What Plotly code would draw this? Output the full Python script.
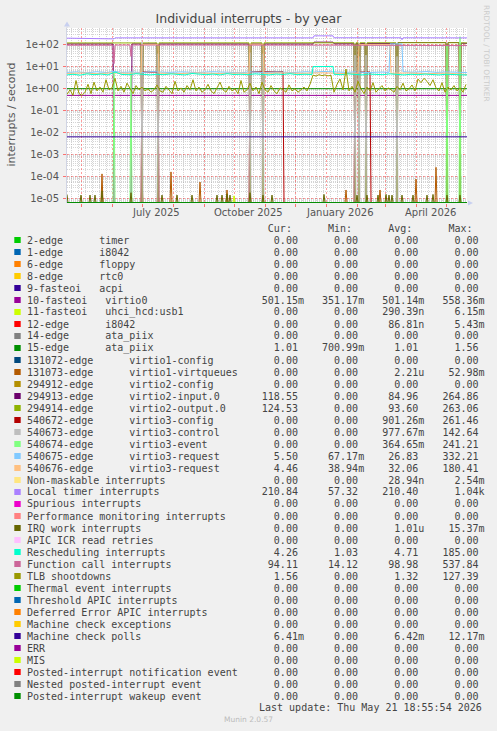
import pandas as pd
import plotly.graph_objects as go

# ---------------------------------------------------------------- data
START = pd.Timestamp("2025-04-16 19:00")
SPAN_DAYS = 400

TITLE = "Individual interrupts - by year"
Y_LABEL = "interrupts / second"
Y_TICK_VALUES = [1e-5, 1e-4, 1e-3, 1e-2, 1e-1, 1, 10, 100]
Y_TICK_LABELS = ["1e-05", "1e-04", "1e-03", "1e-02", "1e-01", "1e+00", "1e+01", "1e+02"]
X_LABEL_DATES = ["2025-07-15", "2025-10-15", "2026-01-15", "2026-04-15"]
X_LABELS = ["July 2025", "October 2025", "January 2026", "April 2026"]
LAST_UPDATE = "Last update: Thu May 21 18:55:54 2026"
FOOTER = "Munin 2.0.57"
WATERMARK = "RRDTOOL / TOBI OETIKER"

LABELS = [
    "2-edge      timer", "1-edge      i8042", "6-edge      floppy", "8-edge      rtc0",
    "9-fasteoi   acpi", "10-fasteoi   virtio0", "11-fasteoi   uhci_hcd:usb1",
    "12-edge      i8042", "14-edge      ata_piix", "15-edge      ata_piix",
    "131072-edge      virtio1-config", "131073-edge      virtio1-virtqueues",
    "294912-edge      virtio2-config", "294913-edge      virtio2-input.0",
    "294914-edge      virtio2-output.0", "540672-edge      virtio3-config",
    "540673-edge      virtio3-control", "540674-edge      virtio3-event",
    "540675-edge      virtio3-request", "540676-edge      virtio3-request",
    "Non-maskable interrupts", "Local timer interrupts", "Spurious interrupts",
    "Performance monitoring interrupts", "IRQ work interrupts", "APIC ICR read retries",
    "Rescheduling interrupts", "Function call interrupts", "TLB shootdowns",
    "Thermal event interrupts", "Threshold APIC interrupts", "Deferred Error APIC interrupts",
    "Machine check exceptions", "Machine check polls", "ERR", "MIS",
    "Posted-interrupt notification event", "Nested posted-interrupt event",
    "Posted-interrupt wakeup event",
]
COLORS = [
    "#00CC00", "#0066B3", "#FF8000", "#FFCC00", "#330099", "#990099", "#CCFF00", "#FF0000",
    "#808080", "#008F00", "#00487D", "#B35A00", "#B38F00", "#6B006B", "#8FB300", "#B30000",
    "#BEBEBE", "#80FF80", "#80C9FF", "#FFC080", "#FFE680", "#AA80FF", "#EE00CC", "#FF8080",
    "#666600", "#FFBFFF", "#00FFCC", "#CC6699", "#999900",
    "#00CC00", "#0066B3", "#FF8000", "#FFCC00", "#330099", "#990099", "#CCFF00", "#FF0000",
    "#808080", "#008F00",
]
CUR = ["0.00", "0.00", "0.00", "0.00", "0.00", "501.15m", "0.00", "0.00", "0.00", "1.01",
       "0.00", "0.00", "0.00", "118.55", "124.53", "0.00", "0.00", "0.00", "5.50", "4.46",
       "0.00", "210.84", "0.00", "0.00", "0.00", "0.00", "4.26", "94.11", "1.56",
       "0.00", "0.00", "0.00", "0.00", "6.41m", "0.00", "0.00", "0.00", "0.00", "0.00"]
MIN = ["0.00", "0.00", "0.00", "0.00", "0.00", "351.17m", "0.00", "0.00", "0.00", "700.99m",
       "0.00", "0.00", "0.00", "0.00", "0.00", "0.00", "0.00", "0.00", "67.17m", "38.94m",
       "0.00", "57.32", "0.00", "0.00", "0.00", "0.00", "1.03", "14.12", "0.00",
       "0.00", "0.00", "0.00", "0.00", "0.00", "0.00", "0.00", "0.00", "0.00", "0.00"]
AVG = ["0.00", "0.00", "0.00", "0.00", "0.00", "501.14m", "290.39n", "86.81n", "0.00", "1.01",
       "0.00", "2.21u", "0.00", "84.96", "93.60", "901.26m", "977.67m", "364.65m", "26.83", "32.06",
       "28.94n", "210.40", "0.00", "0.00", "1.01u", "0.00", "4.71", "98.98", "1.32",
       "0.00", "0.00", "0.00", "0.00", "6.42m", "0.00", "0.00", "0.00", "0.00", "0.00"]
MAX = ["0.00", "0.00", "0.00", "0.00", "0.00", "558.36m", "6.15m", "5.43m", "0.00", "1.56",
       "0.00", "52.98m", "0.00", "264.86", "263.06", "261.46", "142.64", "241.21", "332.21", "180.41",
       "2.54m", "1.04k", "0.00", "0.00", "15.37m", "0.00", "185.00", "537.84", "127.39",
       "0.00", "0.00", "0.00", "0.00", "12.17m", "0.00", "0.00", "0.00", "0.00", "0.00"]

# --- series (x = days since START, y = interrupts/s)
ZERO_DAYS = [0, 400]
ZERO_VALUES = [0, 0]

VIRTIO0_DAYS = [0, 400]
VIRTIO0_VALUES = [0.50, 0.50]

ATA15_DAYS = [0, 400]
ATA15_VALUES = [1.01, 1.01]

MC_POLL_DAYS = [0, 400]
MC_POLL_VALUES = [0.0064, 0.0064]

LOCAL_TIMER_DAYS = [0, 46, 47, 48, 120, 246, 247, 266, 267, 334, 335, 336, 400]
LOCAL_TIMER_VALUES = [205, 205, 190, 212, 212, 212, 262, 262, 214, 214, 175, 214, 211]

FUNC_CALL_DAYS = [0, 46, 47, 48, 63, 64, 65, 200, 246, 247, 266, 267, 400]
FUNC_CALL_VALUES = [97, 97, 14.1, 99, 99, 30, 99, 99, 99, 106, 106, 98, 94]

V2_INPUT_DAYS = [0, 46, 47, 64, 65, 74, 75, 76, 90, 91, 92, 182, 183, 184, 195, 196, 197,
                 246, 247, 266, 267, 287, 288, 289, 291, 292, 293, 298, 299, 300,
                 329, 330, 331, 379, 380, 381, 392, 393, 394, 400]
V2_INPUT_VALUES = [112, 112, 0, 0, 112, 112, 0, 112, 112, 0, 112, 112, 0, 112, 112, 0, 112,
                   112, 135, 135, 114, 114, 0, 116, 116, 0, 116, 116, 0, 118,
                   118, 0, 130, 130, 0, 130, 130, 0, 120, 118.5]

V2_OUTPUT_DAYS = [0, 74, 75, 76, 90, 91, 92, 182, 183, 184, 195, 196, 197, 287, 288, 289,
                  291, 292, 293, 298, 299, 300, 329, 330, 331, 379, 380, 381, 392, 393, 394, 400]
V2_OUTPUT_VALUES = [124, 124, 0, 124, 124, 0, 125, 125, 0, 125, 125, 0, 125, 126, 0, 126,
                    126, 0, 126, 126, 0, 126, 126, 0, 127, 127, 0, 127, 127, 0, 125, 124.5]

V3_CONFIG_DAYS = [0, 74, 75, 91, 92, 182, 183, 216, 217, 287, 288, 303, 304, 400]
V3_CONFIG_VALUES = [0, 0, 5.8, 5.8, 0, 0, 6.0, 6.0, 0, 0, 5.8, 5.8, 0, 0]

V3_CONTROL_SPIKE_DAYS = [75, 91, 183, 196, 288, 292, 299, 330]
V3_CONTROL_SPIKE_VALUES = [142, 40, 45, 40, 35, 30, 35, 30]

V3_EVENT_SPIKE_DAYS = [47, 64, 380, 393]
V3_EVENT_SPIKE_VALUES = [6, 6, 100, 241]

V3_REQ_A_DAYS = [0, 10, 20, 30, 40, 47, 55, 64, 75, 85, 100, 115, 130, 145, 160, 175, 183,
                 196, 210, 225, 240, 246, 256, 266, 280, 288, 300, 315, 322, 323, 335, 336,
                 345, 360, 370, 380, 393, 400]
V3_REQ_A_VALUES = [5.6, 5.9, 5.4, 6.0, 5.5, 6.3, 5.6, 5.8, 5.5, 6.1, 5.6, 5.9, 5.5, 6.0, 5.7,
                   5.4, 6.0, 5.6, 5.9, 5.5, 6.0, 5.7, 6.2, 5.8, 5.6, 5.9, 5.5, 5.8, 5.6, 112,
                   112, 6.0, 5.7, 6.1, 5.6, 5.9, 5.7, 5.5]

V3_REQ_B_DAYS = [0, 15, 30, 47, 60, 74, 75, 91, 92, 110, 130, 150, 170, 182, 183, 196, 197,
                 215, 235, 255, 275, 291, 292, 323, 324, 340, 360, 380, 400]
V3_REQ_B_VALUES = [5.0, 5.3, 4.9, 5.4, 5.1, 5.2, 105, 105, 5.2, 4.9, 5.3, 5.0, 5.2, 5.1, 108,
                   108, 5.0, 5.3, 5.1, 5.4, 5.0, 5.2, 104, 104, 5.1, 5.3, 4.9, 5.2, 4.46]

RESCHED_DAYS = [0, 6, 13, 20, 27, 34, 41, 48, 55, 62, 69, 76, 83, 90, 97, 104, 111, 118, 125,
                132, 139, 146, 153, 160, 167, 174, 181, 188, 195, 202, 209, 216, 223, 230, 237,
                245, 246, 255, 262, 266, 267, 274, 281, 288, 295, 302, 309, 316, 323, 330, 337,
                344, 351, 358, 365, 372, 379, 386, 393, 400]
RESCHED_VALUES = [4.3, 4.6, 4.2, 4.8, 4.4, 4.7, 4.3, 5.8, 4.5, 4.4, 4.9, 4.5, 4.3, 4.6, 4.4,
                  4.8, 4.5, 4.3, 5.0, 4.6, 4.4, 4.7, 4.3, 4.9, 4.5, 4.6, 4.4, 4.8, 4.5, 4.3,
                  4.7, 4.5, 4.9, 4.4, 4.6, 4.5, 10.3, 10.6, 10.4, 10.5, 4.6, 4.4, 4.8, 4.5,
                  4.3, 4.7, 4.5, 4.4, 4.8, 4.5, 4.3, 4.6, 4.4, 4.7, 4.5, 4.3, 4.6, 4.5, 4.4, 4.26]

TLB_STEP_DAYS = 3
TLB_VALUES = [0.55, 0.9, 0.5, 2.4, 0.6, 0.5, 0.7, 1.6, 0.6, 2.0, 0.8,
              1.2, 0.7, 2.6, 0.9, 1.1, 3.0, 0.8, 1.3, 0.7, 1.8,
              1.0, 0.6, 1.4, 0.9, 1.2, 0.8, 1.0, 0.7, 0.9, 1.5,
              0.8, 0.7, 1.3, 0.9, 0.6, 2.2, 0.8, 1.1, 0.7, 1.4,
              0.9, 2.6, 0.8, 1.2, 0.7, 0.9, 1.6, 0.8, 0.6, 1.1,
              2.0, 0.9, 0.7, 1.3, 0.8, 1.0, 0.6, 2.4, 0.7, 0.9,
              1.8, 0.8, 1.2, 0.6, 2.0, 0.9, 0.7, 1.4, 0.8, 0.6,
              1.1, 0.9, 0.7, 1.5, 0.8, 1.0, 0.7, 0.9, 1.2, 0.8,
              1.6, 4.2, 3.8, 4.4, 4.0, 4.3, 3.9, 4.1,
              0.7, 1.6, 2.8, 0.9, 8.0, 0.8, 1.3, 0.7, 2.2, 1.0,
              0.6, 1.2, 0.8, 1.9, 0.7, 1.0, 1.4, 0.8, 1.1, 0.9,
              0.7, 1.3, 0.9, 1.8, 0.8, 1.0, 1.5, 0.8, 2.8, 1.9,
              3.0, 2.2, 1.4, 2.6, 1.1, 0.8, 1.9, 0.7, 1.2, 0.9,
              1.4, 0.8, 1.1, 0.7, 1.6]

IRQ_WORK_SPIKE_DAYS = [0, 14, 23, 28, 35, 64, 95, 110, 125, 150, 155, 160, 163, 183, 196,
                       205, 257, 290, 300, 311, 319, 322, 325, 335, 346, 360, 366, 380, 393]
IRQ_WORK_SPIKE_VALUES = [1.5e-5, 1.4e-5, 1.4e-5, 1.4e-5, 2.2e-5, 1.8e-5, 1.4e-5, 1.4e-5,
                         1.4e-5, 1.4e-5, 1.4e-5, 1.6e-5, 1.4e-5, 1.8e-5, 1.4e-5, 1.4e-5,
                         1.5e-5, 1.4e-5, 1.4e-5, 1.4e-5, 1.5e-5, 1.4e-5, 1.4e-5, 1.4e-5,
                         1.4e-5, 1.4e-5, 1.5e-5, 1.4e-5, 1.4e-5]

VIRTQ_SPIKE_DAYS = [35, 75, 104, 133, 160, 183, 279, 313, 349, 369]
VIRTQ_SPIKE_VALUES = [1.3e-4, 7.6e-5, 1.6e-4, 5.5e-5, 2.4e-5, 4e-5, 2.4e-5, 2.4e-5, 7.6e-5, 2.6e-4]

I8042_12_SPIKE_DAYS = [91]
I8042_12_SPIKE_VALUES = [2.3e-5]

USB_SPIKE_DAYS = [167]
USB_SPIKE_VALUES = [1.3e-5]

# ---------------------------------------------------------------- geometry (pixels)
W, H = 497, 731
PL, PR, PT, PB = 67, 467, 28, 203
Y_LOG_RANGE = [-5.215, 2.776]
FLOOR = 10 ** (Y_LOG_RANGE[0] + 0.02)


def px_x(px):
    return (px - PL) / (PR - PL)


def px_y(py):
    return (PB - py) / (PB - PT)


def spikes(days, values):
    arr = [0.0] * (SPAN_DAYS + 1)
    for d, v in zip(days, values):
        arr[d] = v
    return list(range(SPAN_DAYS + 1)), arr


series = {i: (ZERO_DAYS, ZERO_VALUES) for i in range(len(LABELS))}
series[5] = (VIRTIO0_DAYS, VIRTIO0_VALUES)
series[6] = spikes(USB_SPIKE_DAYS, USB_SPIKE_VALUES)
series[7] = spikes(I8042_12_SPIKE_DAYS, I8042_12_SPIKE_VALUES)
series[9] = (ATA15_DAYS, ATA15_VALUES)
series[11] = spikes(VIRTQ_SPIKE_DAYS, VIRTQ_SPIKE_VALUES)
series[13] = (V2_INPUT_DAYS, V2_INPUT_VALUES)
series[14] = (V2_OUTPUT_DAYS, V2_OUTPUT_VALUES)
series[15] = (V3_CONFIG_DAYS, V3_CONFIG_VALUES)
series[16] = spikes(V3_CONTROL_SPIKE_DAYS, V3_CONTROL_SPIKE_VALUES)
series[17] = spikes(V3_EVENT_SPIKE_DAYS, V3_EVENT_SPIKE_VALUES)
series[18] = (V3_REQ_A_DAYS, V3_REQ_A_VALUES)
series[19] = (V3_REQ_B_DAYS, V3_REQ_B_VALUES)
series[21] = (LOCAL_TIMER_DAYS, LOCAL_TIMER_VALUES)
series[24] = spikes(IRQ_WORK_SPIKE_DAYS, IRQ_WORK_SPIKE_VALUES)
series[26] = (RESCHED_DAYS, RESCHED_VALUES)
series[27] = (FUNC_CALL_DAYS, FUNC_CALL_VALUES)
series[28] = ([TLB_STEP_DAYS * i for i in range(len(TLB_VALUES))], TLB_VALUES)
series[33] = (MC_POLL_DAYS, MC_POLL_VALUES)

fig = go.Figure()
for i, label in enumerate(LABELS):
    days, vals = series[i]
    fig.add_trace(go.Scatter(
        x=[START + pd.Timedelta(days=d) for d in days],
        y=[v if v > 0 else FLOOR for v in vals],
        mode="lines", line=dict(color=COLORS[i], width=1),
        name=label, showlegend=False, hoverinfo="skip",
    ))

MONTH_STARTS = list(pd.date_range("2025-05-01", "2026-05-01", freq="MS"))
MAJOR_GRID = "rgba(255,60,60,0.5)"
MINOR_GRID = "rgba(150,150,150,0.4)"

fig.update_layout(
    width=W, height=H,
    margin=dict(l=PL, r=W - PR, t=PT, b=H - PB, pad=0),
    paper_bgcolor="#F0F0F0", plot_bgcolor="#FFFFFF",
    showlegend=False, hovermode=False,
    title=dict(text=TITLE, x=0.5, xref="container", xanchor="center",
               y=1 - 19 / H, yref="container", yanchor="middle",
               font=dict(family="DejaVu Sans", size=12.5, color="#444444")),
    xaxis=dict(
        type="date", range=[START, START + pd.Timedelta(days=SPAN_DAYS)],
        tickmode="array", tickvals=MONTH_STARTS, showticklabels=False,
        showgrid=True, gridcolor=MAJOR_GRID, griddash="2px,2px", gridwidth=1,
        ticks="outside", ticklen=3, tickcolor="rgba(255,60,60,0.7)",
        showline=False, zeroline=False, fixedrange=True,
        minor=dict(dtick=7 * 24 * 3600 * 1000, tick0="2025-04-14", showgrid=True,
                   gridcolor=MINOR_GRID, griddash="1px,1px", gridwidth=1, ticks=""),
    ),
    yaxis=dict(
        type="log", range=Y_LOG_RANGE,
        tickmode="array", tickvals=Y_TICK_VALUES, ticktext=Y_TICK_LABELS,
        tickfont=dict(family="DejaVu Sans", size=10, color="#555555"),
        ticklabelstandoff=2,
        showgrid=True, gridcolor=MAJOR_GRID, griddash="2px,2px", gridwidth=1,
        ticks="outside", ticklen=3, tickcolor="rgba(255,60,60,0.7)",
        showline=True, linecolor="#D0D4E4", linewidth=1, zeroline=False, fixedrange=True,
        minor=dict(dtick="D1", showgrid=True, gridcolor=MINOR_GRID,
                   griddash="1px,1px", gridwidth=1, ticks=""),
    ),
)

ann = []
shapes = []
# axis title
ann.append(dict(text=Y_LABEL, x=px_x(11), y=px_y(114.5), xref="paper", yref="paper",
                textangle=-90, showarrow=False, xanchor="center", yanchor="middle",
                font=dict(family="DejaVu Sans", size=11, color="#555555")))
# x labels (centred in their month)
for d, t in zip(X_LABEL_DATES, X_LABELS):
    ann.append(dict(text=t, x=d, y=px_y(212), xref="x", yref="paper", showarrow=False,
                    xanchor="center", yanchor="middle",
                    font=dict(family="DejaVu Sans", size=10, color="#555555")))
# watermark
ann.append(dict(text=WATERMARK, x=px_x(487), y=px_y(53), xref="paper", yref="paper",
                textangle=90, showarrow=False, xanchor="center", yanchor="middle",
                font=dict(family="DejaVu Sans", size=7.5, color="#CCCCCC")))

NB = "\u00a0"
MONO = dict(family="DejaVu Sans Mono", size=10, color="#444444")
LEG_X = 26.3


def field(s):
    if s[-1].isalpha():
        num, suf = s[:-1], s[-1]
    else:
        num, suf = s, " "
    return num.rjust(9) + suf


header = " " * 40 + "Cur:" + " " * 6 + "Min:" + " " * 6 + "Avg:" + " " * 6 + "Max:"
ann.append(dict(text=header.replace(" ", NB), x=px_x(LEG_X), y=px_y(228), xref="paper",
                yref="paper", showarrow=False, xanchor="left", yanchor="middle",
                borderpad=0, font=MONO))
for i, label in enumerate(LABELS):
    py = 240 + 12 * i
    row = label.ljust(36) + field(CUR[i]) + field(MIN[i]) + field(AVG[i]) + field(MAX[i])
    ann.append(dict(text=row.replace(" ", NB), x=px_x(LEG_X), y=px_y(py), xref="paper",
                    yref="paper", showarrow=False, xanchor="left", yanchor="middle",
                    borderpad=0, font=MONO))
    shapes.append(dict(type="rect", xref="paper", yref="paper",
                       x0=px_x(14.3), x1=px_x(20.7), y0=px_y(py + 3), y1=px_y(py - 3),
                       fillcolor=COLORS[i], line=dict(width=0)))

ann.append(dict(text=LAST_UPDATE.replace(" ", NB), x=px_x(483), y=px_y(707.5), xref="paper",
                yref="paper", showarrow=False, xanchor="right", yanchor="middle",
                borderpad=0, font=MONO))
ann.append(dict(text=FOOTER, x=px_x(248), y=px_y(719.5), xref="paper", yref="paper",
                showarrow=False, xanchor="center", yanchor="middle",
                font=dict(family="DejaVu Sans", size=7.5, color="#BBBBBB")))

# axis arrows
ARROW = "#C8D0F0"
shapes.append(dict(type="path", xref="paper", yref="paper",
                   path=f"M {px_x(64)} {px_y(26.5)} L {px_x(70)} {px_y(26.5)} L {px_x(67)} {px_y(21.5)} Z",
                   fillcolor=ARROW, line=dict(width=0)))
shapes.append(dict(type="path", xref="paper", yref="paper",
                   path=f"M {px_x(468)} {px_y(200.5)} L {px_x(468)} {px_y(205.5)} L {px_x(473)} {px_y(203)} Z",
                   fillcolor=ARROW, line=dict(width=0)))
shapes.append(dict(type="line", xref="paper", yref="paper", x0=0, x1=0,
                   y0=1, y1=px_y(26.5), line=dict(color="#D0D4E4", width=1)))

fig.update_layout(annotations=ann, shapes=shapes)
fig.write_html("out.html", config={"displayModeBar": False, "staticPlot": True},
               post_script="document.body.style.margin='0';document.body.style.background='#F0F0F0';")
